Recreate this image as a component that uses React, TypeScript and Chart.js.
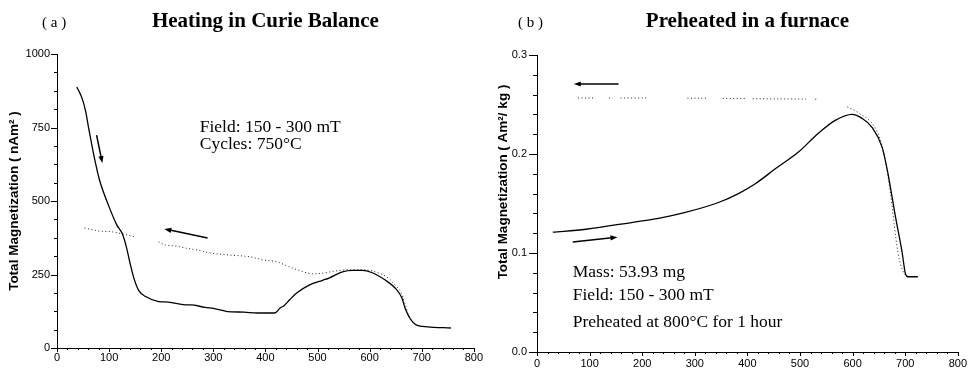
import React, { useEffect, useRef } from 'react';
import { Chart, registerables } from 'chart.js';
Chart.register(...registerables);

// ---------- Panel (a): Heating in Curie Balance ----------
const tempAHeat = [38, 48, 55, 61, 68, 75, 81, 100, 115, 125, 133, 140, 148, 157, 170, 195, 214, 246, 257, 284, 302, 327, 359, 384, 418, 428, 435, 446, 460, 484, 511, 522, 548, 567, 586, 605, 630, 649, 662, 668, 677, 690, 711, 756];
const magAHeat = [888, 850, 805, 745, 680, 620, 575, 480, 418, 390, 345, 290, 235, 195, 175, 158, 156, 147, 147, 138, 134, 124, 122, 119, 119, 136, 143, 163, 187, 214, 231, 238, 259, 264, 264, 256, 231, 204, 170, 136, 102, 78, 72, 68];
const tempACool = [53, 81, 106, 125, 151, 172, 195, 208, 227, 246, 270, 295, 333, 371, 397, 422, 446, 473, 492, 511, 535, 560, 586, 611, 636, 649, 660, 668, 675, 688];
const magACool = [408, 398, 395, 388, 378, null, 361, 350, 347, 340, 333, 323, 316, 310, 299, 293, 276, 259, 252, 255, 262, 266, 266, 259, 238, 214, 190, 150, 110, 80];
const xTicksA = [0, 100, 200, 300, 400, 500, 600, 700, 800];
const yTicksA = [0, 250, 500, 750, 1000];

// ---------- Panel (b): Preheated in a furnace ----------
const tempBHeat = [30, 93, 182, 231, 282, 345, 383, 415, 453, 497, 535, 567, 599, 618, 637, 656, 667, 671, 681, 694, 700, 705, 724];
const magBHeat = [0.121, 0.124, 0.131, 0.135, 0.141, 0.151, 0.160, 0.170, 0.185, 0.202, 0.221, 0.234, 0.240, 0.236, 0.227, 0.207, 0.181, 0.169, 0.138, 0.101, 0.080, 0.076, 0.076];
const tempBCool = [78, 108, 120, 137, 144, 150, 159, 212, 250, 286, 324, 340, 353, 396, 403, 410, 511, 520, 529, 535, 560, 590, 610, 648, 661, 672, 686, 697, 705];
const magBCool = [0.2566, 0.2566, null, 0.2566, 0.2566, null, 0.2566, 0.2566, null, 0.2564, 0.2564, null, 0.2562, 0.2560, null, 0.2558, 0.2555, null, 0.2553, 0.2553, null, 0.2475, 0.242, 0.221, 0.197, 0.160, 0.101, 0.080, 0.076];
const xTicksB = [0, 100, 200, 300, 400, 500, 600, 700, 800];
const yTicksB = [0.0, 0.1, 0.2, 0.3];

const SERIF = '"Liberation Serif", "Times New Roman", serif';
const SANS = '"Liberation Sans", Arial, Helvetica, sans-serif';

type Arrow = { x1: number; y1: number; x2: number; y2: number };
type Note = { x: number; y: number; text: string };

type PanelCfg = {
  letter: string;
  title: string;
  yTitle: string;
  yTitleX: number;
  yTitleY: number;
  heatX: number[];
  heatY: (number | null)[];
  coolX: number[];
  coolY: (number | null)[];
  xMax: number;
  yMax: number;
  xStep: number;
  yStep: number;
  xMajor: number[];
  yMajor: number[];
  yDecimals: number;
  padTop: number;
  padRight: number;
  yWidth: number;
  xHeight: number;
  xLabelPad: number;
  yLabelPad: number;
  yMajorLen: number;
  yMinorLen: number;
  arrows: Arrow[];
  notes: Note[];
  letterX: number;
};

const isMajor = (v: number, majors: number[]) => majors.some((m) => Math.abs(m - v) < 1e-6);

function makeDecor(cfg: PanelCfg) {
  return {
    id: 'decor-' + cfg.letter,
    afterDraw(chart: any) {
      const ctx: CanvasRenderingContext2D = chart.ctx;
      const xs = chart.scales.x;
      const ys = chart.scales.y;
      const ca = chart.chartArea;
      ctx.save();
      ctx.strokeStyle = '#000';
      ctx.fillStyle = '#000';
      ctx.lineWidth = 1;
      // tick marks
      xs.ticks.forEach((t: any) => {
        const px = Math.round(xs.getPixelForValue(t.value)) + 0.5;
        const len = isMajor(t.value, cfg.xMajor) ? 4 : 2;
        ctx.beginPath();
        ctx.moveTo(px, ca.bottom);
        ctx.lineTo(px, ca.bottom + len);
        ctx.stroke();
      });
      ys.ticks.forEach((t: any) => {
        const py = Math.round(ys.getPixelForValue(t.value)) + 0.5;
        const len = isMajor(t.value, cfg.yMajor) ? cfg.yMajorLen : cfg.yMinorLen;
        ctx.beginPath();
        ctx.moveTo(ca.left, py);
        ctx.lineTo(ca.left - len, py);
        ctx.stroke();
      });
      // arrows
      cfg.arrows.forEach((a) => {
        const x1 = xs.getPixelForValue(a.x1);
        const y1 = ys.getPixelForValue(a.y1);
        const x2 = xs.getPixelForValue(a.x2);
        const y2 = ys.getPixelForValue(a.y2);
        const ang = Math.atan2(y2 - y1, x2 - x1);
        const hl = 7;
        const hw = 2.6;
        ctx.lineWidth = 1.5;
        ctx.beginPath();
        ctx.moveTo(x1, y1);
        ctx.lineTo(x2 - Math.cos(ang) * hl * 0.8, y2 - Math.sin(ang) * hl * 0.8);
        ctx.stroke();
        ctx.beginPath();
        ctx.moveTo(x2, y2);
        ctx.lineTo(x2 - Math.cos(ang) * hl - Math.sin(ang) * hw, y2 - Math.sin(ang) * hl + Math.cos(ang) * hw);
        ctx.lineTo(x2 - Math.cos(ang) * hl + Math.sin(ang) * hw, y2 - Math.sin(ang) * hl - Math.cos(ang) * hw);
        ctx.closePath();
        ctx.fill();
      });
      // notes
      ctx.font = '17.5px ' + SERIF;
      ctx.textAlign = 'left';
      ctx.textBaseline = 'middle';
      cfg.notes.forEach((n) => {
        ctx.fillText(n.text, xs.getPixelForValue(n.x), ys.getPixelForValue(n.y));
      });
      // panel letter and title
      ctx.font = '15px ' + SERIF;
      ctx.fillText(cfg.letter, cfg.letterX, 23);
      ctx.font = 'bold 21px ' + SERIF;
      ctx.textAlign = 'center';
      ctx.fillText(cfg.title, (ca.left + ca.right) / 2, 22);
      // y axis title
      ctx.save();
      ctx.translate(cfg.yTitleX, cfg.yTitleY);
      ctx.rotate(-Math.PI / 2);
      ctx.font = 'bold 13.5px ' + SANS;
      ctx.textAlign = 'center';
      ctx.textBaseline = 'middle';
      ctx.fillText(cfg.yTitle, 0, 0);
      ctx.restore();
      ctx.restore();
    },
  };
}

function Panel({ cfg }: { cfg: PanelCfg }) {
  const ref = useRef<HTMLCanvasElement>(null);
  useEffect(() => {
    const heat = cfg.heatX.map((x, i) => ({ x, y: cfg.heatY[i] }));
    const cool = cfg.coolX.map((x, i) => ({ x, y: cfg.coolY[i] }));
    const chart = new Chart(ref.current as HTMLCanvasElement, {
      type: 'line',
      data: {
        datasets: [
          {
            label: 'heating',
            data: heat as any,
            borderColor: '#000',
            borderWidth: 1.3,
            pointRadius: 0,
            cubicInterpolationMode: 'monotone',
            fill: false,
          },
          {
            label: 'cooling',
            data: cool as any,
            borderColor: '#222',
            borderWidth: 1,
            borderDash: [1, 2.5],
            pointRadius: 0,
            spanGaps: false,
            cubicInterpolationMode: 'monotone',
            fill: false,
          },
        ],
      },
      options: {
        animation: false,
        responsive: false,
        parsing: false as any,
        layout: { padding: { top: cfg.padTop, right: cfg.padRight, left: 0, bottom: 0 } },
        plugins: { legend: { display: false }, tooltip: { enabled: false }, title: { display: false } },
        scales: {
          x: {
            type: 'linear',
            min: 0,
            max: cfg.xMax,
            afterFit: (s: any) => {
              s.height = cfg.xHeight;
            },
            grid: { display: false, drawTicks: false },
            border: { display: true, color: '#000', width: 1 },
            ticks: {
              stepSize: cfg.xStep,
              autoSkip: false,
              maxTicksLimit: 200,
              maxRotation: 0,
              padding: cfg.xLabelPad,
              color: '#000',
              font: { family: SANS, size: 11 },
              callback: (v: any) => (isMajor(Number(v), cfg.xMajor) ? String(Math.round(Number(v))) : ''),
            },
          },
          y: {
            type: 'linear',
            min: 0,
            max: cfg.yMax,
            afterFit: (s: any) => {
              s.width = cfg.yWidth;
            },
            grid: { display: false, drawTicks: false },
            border: { display: true, color: '#000', width: 1 },
            ticks: {
              stepSize: cfg.yStep,
              autoSkip: false,
              maxTicksLimit: 200,
              padding: cfg.yLabelPad,
              color: '#000',
              font: { family: SANS, size: 11 },
              callback: (v: any) => (isMajor(Number(v), cfg.yMajor) ? Number(v).toFixed(cfg.yDecimals) : ''),
            },
          },
        },
      },
      plugins: [makeDecor(cfg)],
    } as any);
    return () => chart.destroy();
  }, [cfg]);
  return <canvas ref={ref} width={486} height={369} style={{ display: 'block', width: 486, height: 369 }} />;
}

const cfgA: PanelCfg = {
  letter: '( a )',
  title: 'Heating in Curie Balance',
  yTitle: 'Total Magnetization ( nAm² )',
  yTitleX: 14,
  yTitleY: 201,
  heatX: tempAHeat,
  heatY: magAHeat,
  coolX: tempACool,
  coolY: magACool,
  xMax: 800,
  yMax: 1000,
  xStep: 20,
  yStep: 62.5,
  xMajor: xTicksA,
  yMajor: yTicksA,
  yDecimals: 0,
  padTop: 54,
  padRight: 6,
  yWidth: 57,
  xHeight: 21,
  xLabelPad: 3,
  yLabelPad: 7,
  yMajorLen: 6,
  yMinorLen: 3,
  arrows: [
    { x1: 76, y1: 724, x2: 87, y2: 629 },
    { x1: 289, y1: 374, x2: 206, y2: 405 },
  ],
  notes: [
    { x: 274, y: 752, text: 'Field: 150 - 300 mT' },
    { x: 274, y: 694, text: 'Cycles: 750°C' },
  ],
  letterX: 42,
};

const cfgB: PanelCfg = {
  letter: '( b )',
  title: 'Preheated in a furnace',
  yTitle: 'Total Magnetization ( Am²/ kg )',
  yTitleX: 17,
  yTitleY: 182,
  heatX: tempBHeat,
  heatY: magBHeat,
  coolX: tempBCool,
  coolY: magBCool,
  xMax: 800,
  yMax: 0.3,
  xStep: 20,
  yStep: 0.02,
  xMajor: xTicksB,
  yMajor: yTicksB,
  yDecimals: 1,
  padTop: 55,
  padRight: 13,
  yWidth: 51,
  xHeight: 17,
  xLabelPad: 5,
  yLabelPad: 10,
  yMajorLen: 8,
  yMinorLen: 4,
  arrows: [
    { x1: 155, y1: 0.2707, x2: 70, y2: 0.2707 },
    { x1: 68, y1: 0.111, x2: 153, y2: 0.116 },
  ],
  notes: [
    { x: 68, y: 0.0808, text: 'Mass: 53.93 mg' },
    { x: 68, y: 0.0576, text: 'Field: 150 - 300 mT' },
    { x: 68, y: 0.0303, text: 'Preheated at 800°C for 1 hour' },
  ],
  letterX: 32,
};

export default function App() {
  return (
    <div style={{ position: 'absolute', left: 0, top: 0, width: 972, height: 369, display: 'flex', background: '#fff' }}>
      <Panel cfg={cfgA} />
      <Panel cfg={cfgB} />
    </div>
  );
}
